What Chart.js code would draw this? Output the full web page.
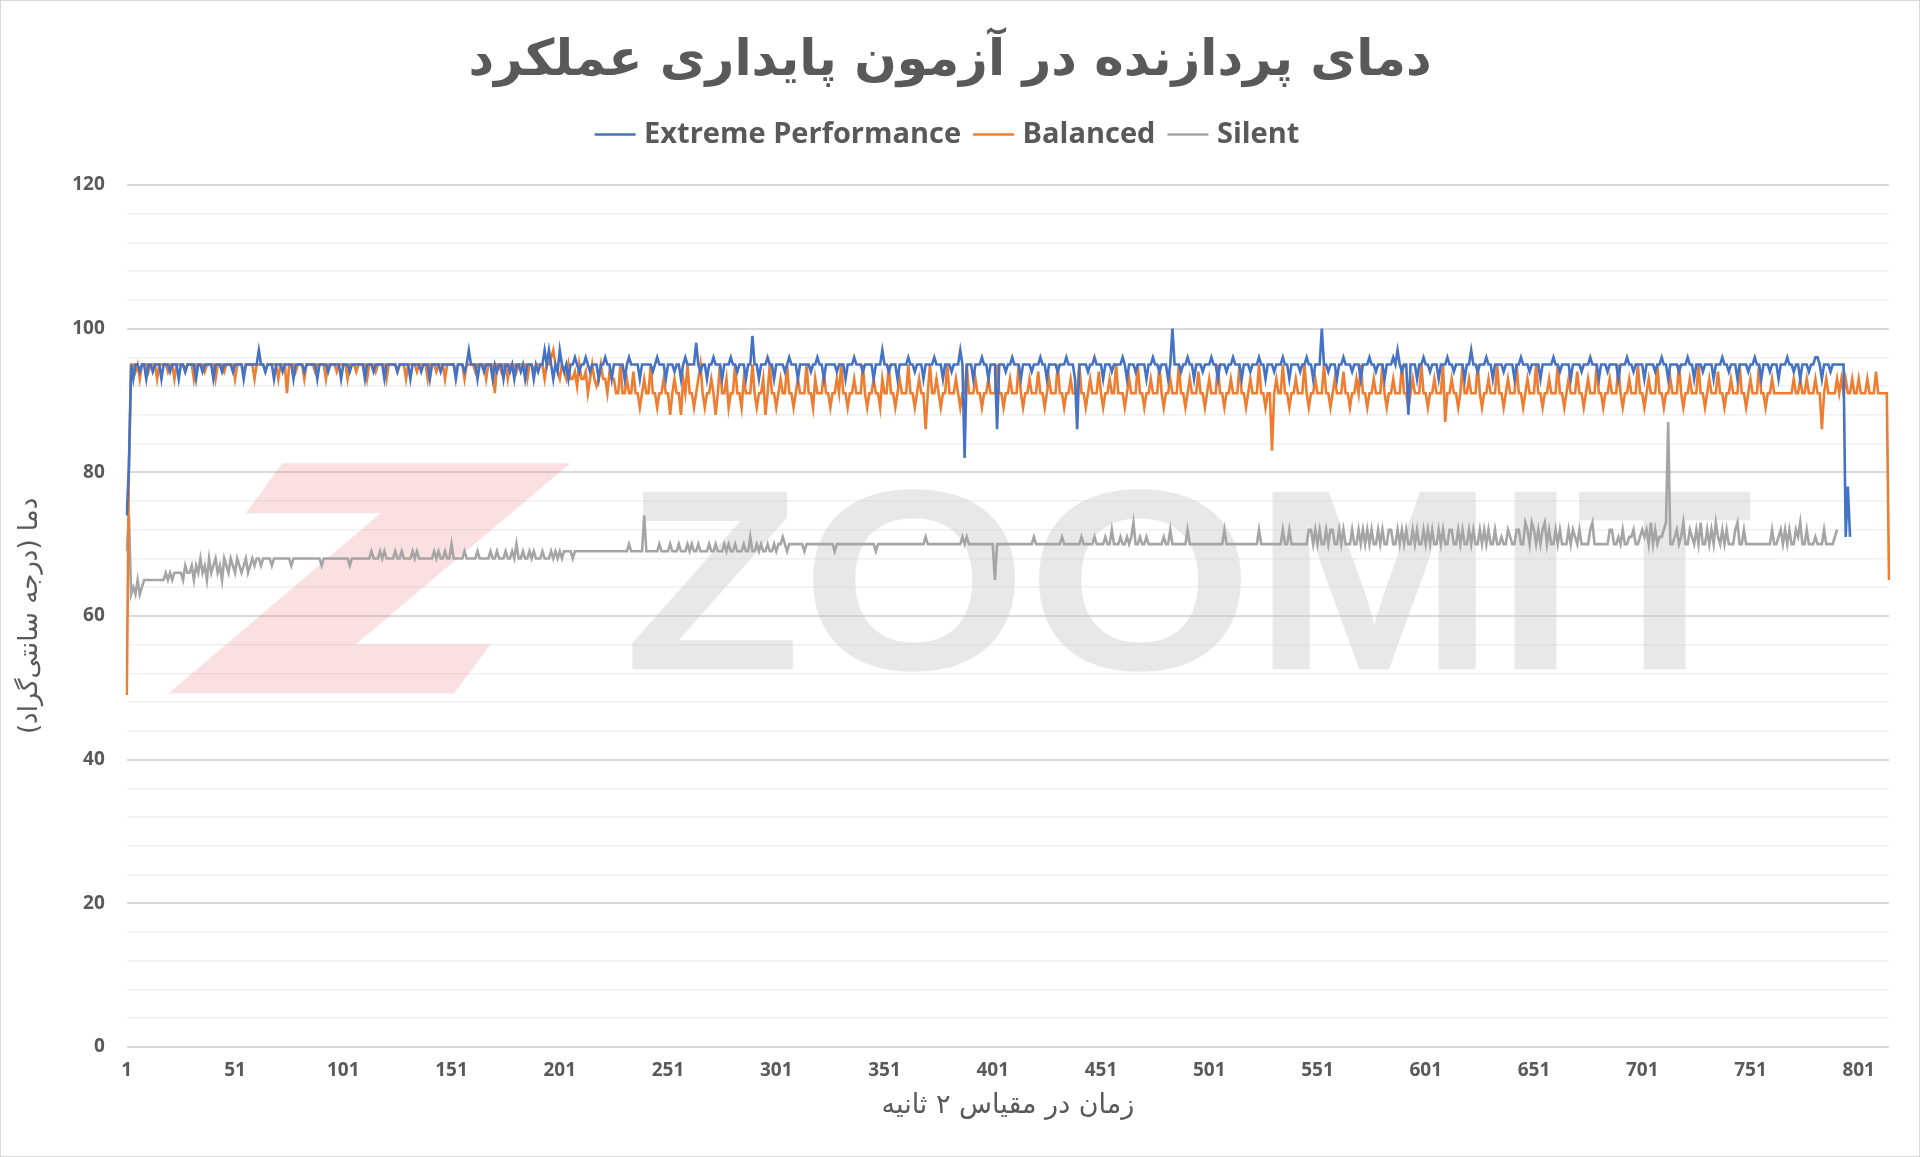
<!DOCTYPE html>
<html><head><meta charset="utf-8">
<script src="https://cdn.jsdelivr.net/npm/chart.js@4"></script>
<style>html,body{margin:0;padding:0;background:#fff}#wrap{width:1918px;height:1155px;border:1px solid #d9d9d9}</style>
</head><body><div id="wrap"><canvas id="c" width="1918" height="1155"></canvas></div>
<script>
const TITLE = "دمای پردازنده در آزمون پایداری عملکرد";
const X_TITLE = "زمان در مقیاس ۲ ثانیه";
const Y_TITLE = "دما (درجه سانتی‌گراد)";
const SERIES_NAMES = ["Extreme Performance","Balanced","Silent"];
const N_POINTS = 815;
const categories = Array.from({length:N_POINTS},(_,i)=>String(i+1));
const extreme = [
74,81,95,93,95,95,94,95,95,93,95,95,94,95,95,95,93,95,95,95,94,95,95,95,93,
95,95,94,95,95,95,95,93,95,95,94,95,95,95,95,93,95,95,95,94,95,95,95,95,94,
95,95,95,95,93,95,95,95,95,95,95,97,95,95,94,95,95,95,93,95,95,95,94,95,95,
95,95,93,95,95,95,95,94,95,95,95,95,95,93,95,95,95,95,94,95,95,95,95,95,93,
95,95,95,94,95,95,95,95,95,95,93,95,95,95,94,95,95,95,95,93,95,95,95,95,95,
94,95,95,95,95,95,93,95,95,95,95,94,95,95,95,93,95,95,95,95,94,95,95,95,95,
95,95,93,95,95,95,94,95,97,95,95,95,93,95,95,94,95,95,95,93,95,94,95,95,93,
95,95,94,95,93,95,95,94,95,93,95,95,95,93,95,94,95,95,97,95,97,95,93,95,94,
97,95,94,95,93,95,95,96,95,94,95,95,96,95,94,95,95,95,93,95,95,96,95,95,93,
95,95,95,95,95,93,95,96,95,95,95,95,93,95,95,95,95,95,94,95,96,95,95,95,93,
95,95,95,94,95,95,93,95,96,95,95,95,95,98,95,94,95,95,93,95,95,96,95,95,95,
93,95,95,95,96,95,95,94,95,95,95,93,95,95,99,95,95,93,95,95,95,96,95,95,93,
95,95,95,95,94,95,96,95,95,95,93,95,95,95,95,95,94,95,95,96,95,95,93,95,95,
95,95,95,94,95,95,95,93,95,95,95,96,95,95,95,94,95,95,95,95,93,95,95,95,97,
95,95,94,95,95,95,93,95,95,95,95,96,95,95,94,95,95,95,93,95,95,95,95,96,95,
95,95,93,95,95,95,94,95,95,95,97,95,82,95,95,95,93,95,95,95,96,95,95,93,95,
95,95,86,95,95,95,94,95,95,96,95,95,95,93,95,95,95,95,94,95,95,95,96,95,95,
93,95,95,95,95,94,95,95,95,96,95,95,95,93,86,95,95,95,95,94,95,95,96,95,95,
95,93,95,95,95,94,95,95,95,95,96,95,93,95,95,95,94,95,95,95,95,93,95,95,96,
95,95,94,95,95,95,93,95,100,95,95,95,94,95,95,96,95,95,93,95,95,95,94,95,95,
95,96,95,95,93,95,95,95,94,95,95,96,95,95,95,93,95,95,95,94,95,95,95,96,95,
95,93,95,95,95,94,95,95,95,96,95,95,93,95,95,95,95,94,95,95,96,95,95,93,95,
95,95,100,95,95,94,95,95,95,93,95,95,96,95,95,95,94,95,95,95,93,95,95,95,96,
95,95,94,95,95,95,93,95,95,95,96,95,97,95,94,95,95,88,95,95,95,93,95,95,96,
95,95,94,95,95,95,93,95,95,95,96,95,95,94,95,95,95,95,93,95,95,97,95,95,94,
95,95,95,96,95,95,93,95,95,95,95,94,95,95,95,95,93,95,95,96,95,95,95,94,95,
95,95,95,93,95,95,95,95,95,96,95,95,94,95,95,95,95,93,95,95,95,95,94,95,95,
95,96,95,95,95,93,95,95,95,94,95,95,95,95,93,95,95,95,96,95,95,94,95,95,95,
95,93,95,95,95,95,94,95,95,96,95,95,93,95,95,95,95,94,95,95,95,96,95,95,93,
95,95,95,94,95,95,95,95,93,95,95,95,96,95,95,94,95,95,95,93,95,95,95,95,94,
95,95,96,95,95,93,95,95,95,94,95,95,95,93,95,95,95,96,95,95,94,95,95,93,95,
95,95,94,95,95,96,96,95,93,95,95,95,94,95,95,95,95,95,95,71,78,71];
const balanced = [
49,81,95,95,94,95,93,95,95,95,94,95,95,95,93,95,95,95,95,94,95,95,93,95,95,
95,95,94,95,95,95,93,95,95,95,95,94,95,95,95,95,93,95,95,95,94,95,95,95,95,
93,95,95,95,94,95,95,95,95,93,95,95,95,95,94,95,95,95,95,95,93,95,95,95,91,
95,95,95,94,95,95,95,93,95,95,95,95,94,95,95,95,95,93,95,95,95,95,94,95,95,
95,95,93,95,95,95,94,95,95,95,95,93,95,95,95,94,95,95,95,95,93,95,95,95,95,
94,95,95,95,93,95,95,95,95,94,95,95,95,95,93,95,95,95,94,95,95,95,93,95,95,
95,95,94,95,95,95,93,95,95,95,95,94,95,95,95,95,93,95,95,95,91,95,95,94,95,
95,93,95,95,95,94,95,95,95,95,93,95,95,94,95,95,95,95,93,95,95,96,97,95,94,
93,95,94,93,95,93,93,94,92,95,93,93,94,91,93,95,93,92,93,95,93,93,91,94,93,
93,91,91,95,91,91,93,91,91,94,91,91,89,91,93,91,91,95,91,91,89,91,91,93,91,
91,88,91,93,91,91,88,93,91,95,91,91,89,91,93,95,91,89,91,91,93,91,88,91,95,
91,91,93,89,91,91,95,91,91,89,93,91,91,91,95,91,89,91,91,93,88,91,95,91,91,
89,91,93,91,91,95,91,91,89,91,93,91,91,91,95,91,91,89,93,91,91,91,94,91,91,
89,91,91,93,91,95,91,91,89,91,91,93,91,91,91,95,91,89,91,91,93,91,91,89,93,
91,91,95,91,91,89,91,93,91,91,91,95,91,91,89,91,93,91,91,86,91,95,91,91,93,
91,89,91,91,95,91,91,91,93,91,89,91,91,95,91,91,91,93,91,91,89,91,91,93,91,
91,91,95,91,91,89,91,91,93,91,91,91,95,91,89,91,91,93,91,91,91,94,91,91,89,
91,93,91,91,91,95,91,91,89,91,91,93,91,91,91,95,91,91,89,91,93,91,91,91,94,
91,89,91,91,93,91,91,95,91,91,91,89,91,93,91,91,91,95,91,91,89,91,91,93,91,
91,91,95,91,89,91,91,93,91,91,91,95,91,91,89,91,93,91,91,91,94,91,91,89,91,
93,91,91,91,95,91,91,89,91,91,93,91,91,91,95,91,91,89,91,93,91,91,91,95,91,
91,89,91,91,83,91,93,91,91,95,91,91,89,91,91,93,91,91,91,95,91,89,91,91,93,
91,91,91,95,91,91,89,91,93,91,91,91,94,91,91,89,91,91,93,91,95,91,91,89,91,
91,93,91,91,91,95,91,89,91,91,93,91,91,91,95,91,91,89,91,93,91,91,91,95,91,
91,89,91,91,93,91,91,91,95,87,91,91,93,91,91,89,91,95,91,91,93,91,91,91,95,
91,89,91,91,93,91,91,91,95,91,91,89,91,93,91,91,91,95,91,91,89,91,93,91,91,
91,95,91,91,89,91,91,93,91,91,91,95,91,91,89,91,93,91,91,91,94,91,91,89,91,
93,91,91,91,95,91,91,89,91,91,93,91,91,91,95,91,89,91,91,93,91,91,91,95,91,
91,89,91,93,91,91,91,95,91,91,89,91,91,93,91,91,91,95,91,89,91,91,93,91,91,
91,95,91,91,89,91,93,91,91,91,94,91,91,89,91,91,93,91,91,91,95,91,91,89,91,
93,91,91,91,95,91,91,89,91,91,93,91,91,91,91,91,91,91,91,91,93,91,91,93,91,
91,93,91,91,91,93,91,91,86,91,93,91,91,91,91,93,91,93,91,93,91,91,93,91,91,
93,91,91,91,93,91,91,91,94,91,91,91,91,91,65];
const silent = [
69,74,63,64,63,65,63,64,65,65,65,65,65,65,65,65,65,65,66,65,66,65,66,66,66,
66,65,67,66,66,67,65,67,66,68,66,67,65,68,66,67,68,66,67,65,68,67,66,68,67,
66,68,67,66,67,68,66,67,68,67,68,68,67,68,68,68,68,67,68,68,68,68,68,68,68,
68,67,68,68,68,68,68,68,68,68,68,68,68,68,68,67,68,68,68,68,68,68,68,68,68,
68,68,68,67,68,68,68,68,68,68,68,68,68,69,68,68,68,69,68,69,68,68,68,68,69,
68,68,69,68,68,68,68,69,68,69,68,68,68,68,68,68,68,69,68,69,68,68,69,68,68,
70,68,68,68,68,68,69,68,68,68,68,68,69,68,68,68,68,68,69,68,68,69,68,68,68,
69,68,68,69,68,70,68,68,69,68,68,69,68,69,68,68,68,69,68,68,68,69,68,69,68,
69,68,69,69,69,69,68,69,69,69,69,69,69,69,69,69,69,69,69,69,69,69,69,69,69,
69,69,69,69,69,69,69,70,69,69,69,69,69,69,74,69,69,69,69,69,69,70,69,69,69,
69,70,69,69,69,70,69,69,69,70,69,70,69,69,70,69,69,69,69,70,69,69,70,69,69,
69,70,69,70,69,69,70,69,69,69,70,69,69,71,69,69,70,69,70,69,69,70,69,69,70,
69,70,70,71,70,69,70,70,70,70,70,70,70,69,70,70,70,70,70,70,70,70,70,70,70,
70,70,69,70,70,70,70,70,70,70,70,70,70,70,70,70,70,70,70,70,70,69,70,70,70,
70,70,70,70,70,70,70,70,70,70,70,70,70,70,70,70,70,70,70,71,70,70,70,70,70,
70,70,70,70,70,70,70,70,70,70,70,71,70,71,70,70,70,70,70,70,70,70,70,70,70,
70,65,70,70,70,70,70,70,70,70,70,70,70,70,70,70,70,70,70,71,70,70,70,70,70,
70,70,70,70,70,70,70,71,70,70,70,70,70,70,70,70,71,70,70,70,70,70,71,70,70,
70,70,71,70,70,72,70,70,70,71,70,70,71,70,71,73,70,70,71,70,70,71,70,70,70,
70,70,70,70,71,70,70,72,70,70,70,70,70,70,70,72,70,70,70,70,70,70,70,70,70,
70,70,70,70,70,70,70,72,70,70,70,70,70,70,70,70,70,70,70,70,70,70,70,72,70,
70,70,70,70,70,70,70,70,70,72,70,70,72,70,70,70,70,70,70,70,70,72,72,70,72,
70,72,70,70,72,70,72,72,70,70,72,70,72,70,70,70,72,70,70,72,70,72,70,72,70,
72,70,70,72,70,72,70,70,72,72,70,70,72,70,72,70,72,70,70,72,70,72,70,70,72,
70,72,70,72,70,70,72,70,72,70,70,72,72,70,70,72,70,72,70,70,72,70,72,70,70,
72,70,72,70,72,70,70,72,70,70,71,70,70,72,71,70,70,72,72,70,70,73,72,70,73,
72,70,72,70,72,73,70,72,70,70,72,70,72,70,70,70,72,70,72,71,70,72,70,70,70,
70,72,73,70,70,70,70,70,70,70,72,72,70,70,71,70,72,70,70,71,71,72,70,70,71,
72,71,72,70,73,70,72,70,71,71,72,73,87,70,70,71,72,70,71,73,70,70,72,71,70,
72,70,73,70,70,72,70,72,70,73,71,70,72,70,72,70,70,70,72,73,70,70,72,70,70,
70,70,70,70,70,70,70,70,70,70,72,70,70,71,72,70,72,70,72,70,70,72,71,73,70,
70,72,70,70,70,71,70,70,70,72,70,70,70,70,71,72];
const Y_MIN = 0, Y_MAX = 120, Y_STEP = 4, Y_LABEL_STEP = 20, X_LABEL_STEP = 50;
const COLORS = ["#4472C4","#ED7D31","#A5A5A5"];

const watermark = {
  id:'wm',
  beforeDatasetsDraw(chart){
    const {ctx, chartArea:a} = chart;
    const W = a.right-a.left, H = a.bottom-a.top;
    const px = f=>a.left+f*W, py=f=>a.top+f*H;
    ctx.save();
    ctx.fillStyle='rgba(238,130,145,0.25)';
    const pts=[[0.0883,0.323],[0.2517,0.323],[0.130,0.533],[0.2065,0.533],[0.1857,0.590],[0.0236,0.590],[0.144,0.381],[0.0675,0.381]];
    ctx.beginPath();
    pts.forEach((p,i)=>i?ctx.lineTo(px(p[0]),py(p[1])):ctx.moveTo(px(p[0]),py(p[1])));
    ctx.closePath();ctx.fill();
    ctx.fillStyle='rgba(205,205,205,0.45)';
    ctx.font='bold 258px "Liberation Sans", sans-serif';
    ctx.textBaseline='alphabetic';
    ctx.textAlign='left';
    const t='ZOOMIT';
    const w=ctx.measureText(t).width;
    ctx.save();
    ctx.translate(px(0.282),py(0.562));
    ctx.scale((px(0.923)-px(0.282))/w, 1);
    ctx.fillText(t,0,0);
    ctx.restore();
    ctx.restore();
  }
};

const legendGap = {
  id:'legendGap',
  beforeInit(chart){
    const fit = chart.legend.fit;
    chart.legend.fit = function(){ fit.call(this); this.height += 26; };
  }
};

new Chart(document.getElementById('c'),{
  type:'line',
  data:{labels:categories,datasets:[
    {label:SERIES_NAMES[0],data:extreme,borderColor:COLORS[0],backgroundColor:COLORS[0]},
    {label:SERIES_NAMES[1],data:balanced,borderColor:COLORS[1],backgroundColor:COLORS[1]},
    {label:SERIES_NAMES[2],data:silent,borderColor:COLORS[2],backgroundColor:COLORS[2]}
  ].map(d=>Object.assign(d,{borderWidth:2.6,pointRadius:0,tension:0,fill:false}))},
  options:{
    responsive:false,animation:false,
    layout:{padding:{left:10,right:30,top:8,bottom:30}},
    plugins:{
      title:{display:true,text:TITLE,color:'#595959',font:{family:'DejaVu Sans',size:50,weight:'bold'},padding:{top:23,bottom:10}},
      legend:{labels:{usePointStyle:true,pointStyle:'line',boxWidth:30,color:'#595959',font:{family:'Open Sans',size:29,weight:'bold'},padding:18}},
      tooltip:{enabled:false}
    },
    scales:{
      x:{grid:{display:false},border:{display:false},
        title:{display:true,text:X_TITLE,color:'#595959',font:{family:'DejaVu Sans',size:27},padding:{top:4}},
        ticks:{autoSkip:false,maxRotation:0,padding:4,color:'#595959',font:{family:'Open Sans',size:19,weight:'bold'},
          callback:(v,i)=> i%X_LABEL_STEP===0 ? categories[i] : null}},
      y:{min:Y_MIN,max:Y_MAX,border:{display:false},
        title:{display:true,text:Y_TITLE,color:'#595959',font:{family:'DejaVu Sans',size:26}},
        grid:{color:c=>c.tick.value%Y_LABEL_STEP===0?'#d9d9d9':'#f0f0f0',lineWidth:c=>c.tick.value%Y_LABEL_STEP===0?2:1.5,drawTicks:false},
        ticks:{stepSize:Y_STEP,padding:22,color:'#595959',font:{family:'Open Sans',size:19,weight:'bold'},
          callback:v=> v%Y_LABEL_STEP===0 ? v : ''}}
    }
  },
  plugins:[watermark, legendGap]
});
</script></body></html>
